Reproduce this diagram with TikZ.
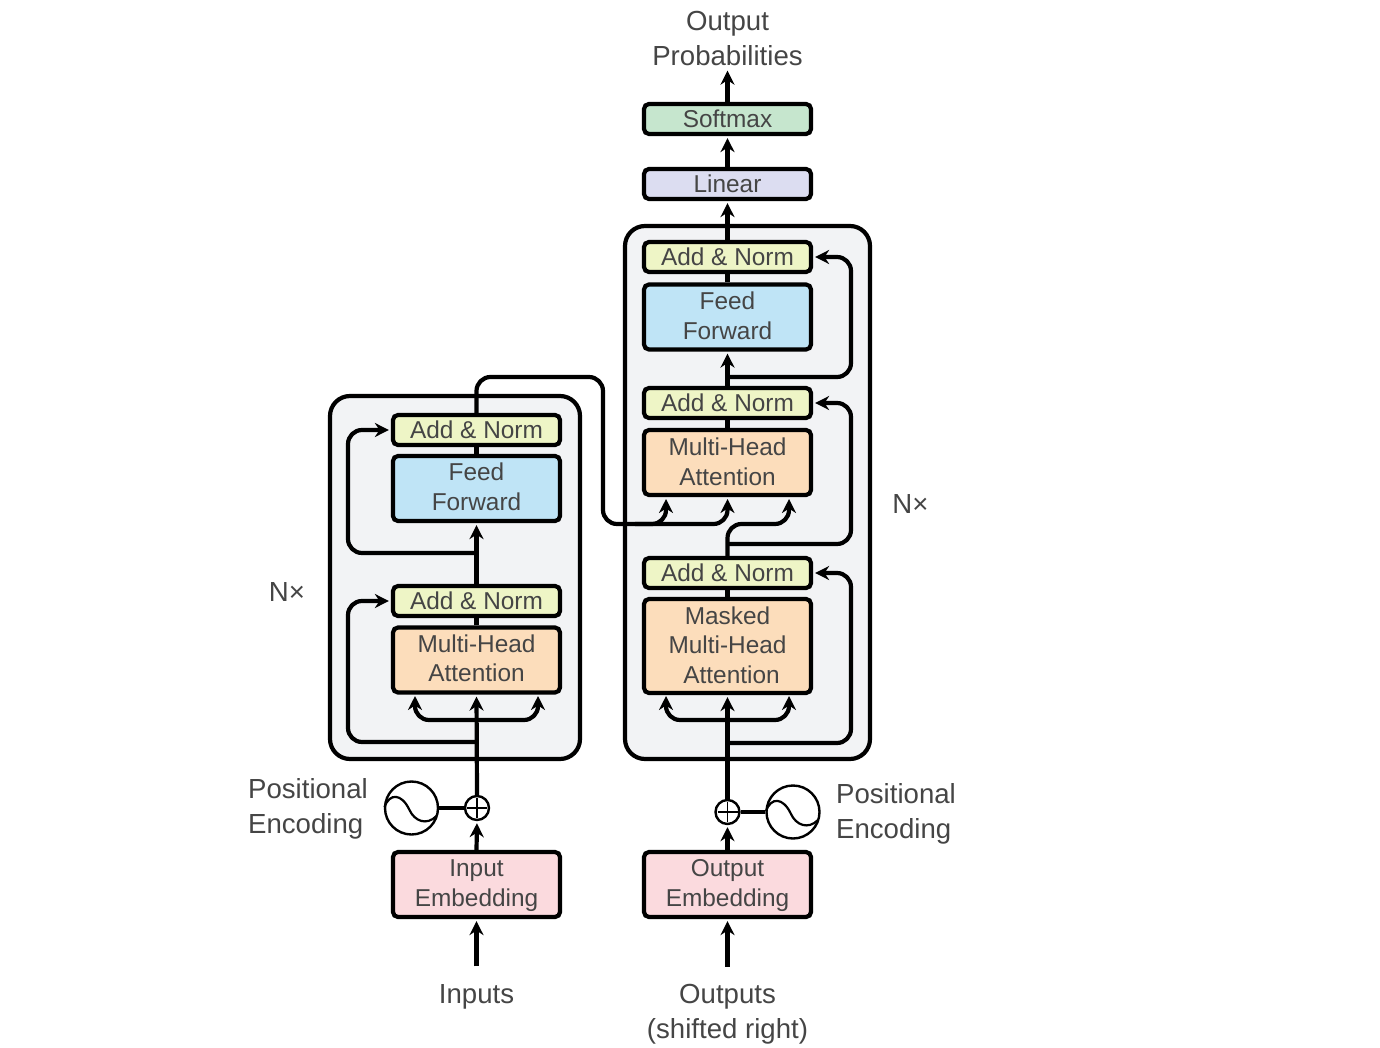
\documentclass[tikz,border=0pt]{standalone}
\usepackage{fontspec}
\setmainfont{Liberation Sans}
\usetikzlibrary{arrows.meta,calc}
\definecolor{txt}{HTML}{454545}
\definecolor{outerbg}{HTML}{F2F3F5}
\definecolor{softc}{HTML}{C6E6CE}
\definecolor{linc}{HTML}{DCDDF1}
\definecolor{anc}{HTML}{EEF5C6}
\definecolor{ffc}{HTML}{BFE4F6}
\definecolor{mhc}{HTML}{FCDDBB}
\definecolor{emc}{HTML}{FBDADE}
\tikzset{
  block/.style={draw=black,line width=2.1pt,rounded corners=2.5pt,minimum width=83.5pt,inner sep=0pt,
    align=center,text=txt,font=\fontsize{12.2}{14.8}\selectfont},
  thin block/.style={block,minimum height=15pt},
  two block/.style={block,minimum height=32.5pt},
  outerbox/.style={draw=black,line width=2.1pt,rounded corners=10pt,fill=outerbg},
  label/.style={text=txt,align=left,font=\fontsize{13.8}{17.5}\selectfont},
  midlabel/.style={label,align=center},
  conn/.style={line width=2.1pt,line join=round,rounded corners=7pt},
  arrowed/.style={conn,-{Stealth[length=7pt,width=7pt]},shorten >=1pt},
  wave/.style={draw=black,line width=1.2pt,circle,minimum size=26.5pt,inner sep=0pt,fill=white},
  plusnode/.style={draw=black,line width=1.2pt,circle,minimum size=12pt,inner sep=0pt,fill=white},
  plusline/.style={line width=0.6pt},
  waveline/.style={line width=1.1pt}
}
\begin{document}
\begin{tikzpicture}[x=0.5pt,y=-0.5pt]
\useasboundingbox (0,0) rectangle (1380,1048);
% containers
\draw[outerbox] (330,396) rectangle (580,759);
\draw[outerbox] (625,226) rectangle (870,759);
% encoder blocks
\node[thin block,fill=anc] (ean1) at (476.5,430) {Add \& Norm};
\node[two block,fill=ffc,text depth=2pt] (eff) at (476.5,488.5) {Feed\\Forward};
\node[thin block,fill=anc] (ean2) at (476.5,601) {Add \& Norm};
\node[two block,fill=mhc,text depth=2pt] (emh) at (476.5,660) {Multi-Head\\Attention};
\node[two block,fill=emc,text depth=1.6pt] (eem) at (476.5,884.5) {Input\\Embedding};
% decoder blocks
\node[thin block,fill=softc] (soft) at (727.5,119) {Softmax};
\node[thin block,fill=linc] (lin) at (727.5,184) {Linear};
\node[thin block,fill=anc] (dan1) at (727.5,257) {Add \& Norm};
\node[two block,fill=ffc,text depth=1.5pt] (dff) at (727.5,317) {Feed\\Forward};
\node[thin block,fill=anc] (dan2) at (727.5,403) {Add \& Norm};
\node[two block,fill=mhc,text depth=1pt] (dmh) at (727.5,462.5) {Multi-Head\\Attention};
\node[thin block,fill=anc] (dan3) at (727.5,573) {Add \& Norm};
\node[block,fill=mhc,minimum height=47pt,text depth=1pt] (dmm) at (727.5,646) {Masked\\Multi-Head\\\hspace*{4pt}Attention};
\node[two block,fill=emc,text depth=1.6pt] (dem) at (727.5,884.5) {Output\\Embedding};
% positional encoding
\node[plusnode] (eplus) at (477,808) {};
\node[plusnode] (dplus) at (727.5,812) {};
\node[wave] (ewave) at (411.5,808) {};
\node[wave] (dwave) at (793,812) {};
\draw[plusline] ($(eplus)+(-10,0)$) -- ($(eplus)+(10,0)$);
\draw[plusline] ($(eplus)+(0,-10)$) -- ($(eplus)+(0,10)$);
\draw[plusline] ($(dplus)+(-10,0)$) -- ($(dplus)+(10,0)$);
\draw[plusline] ($(dplus)+(0,-10)$) -- ($(dplus)+(0,10)$);
\draw[waveline] ($(ewave)+(-27,-1)$) .. controls ($(ewave)+(-22,-15)$) and ($(ewave)+(-10,-15)$) .. ($(ewave)+(-2,2)$)
  .. controls ($(ewave)+(3,13)$) and ($(ewave)+(15,18)$) .. ($(ewave)+(25,8)$);
\draw[waveline] ($(dwave)+(-27,-1)$) .. controls ($(dwave)+(-22,-15)$) and ($(dwave)+(-10,-15)$) .. ($(dwave)+(-2,2)$)
  .. controls ($(dwave)+(3,13)$) and ($(dwave)+(15,18)$) .. ($(dwave)+(25,8)$);
% text labels
\node[midlabel,inner sep=1pt] (outprob) at (727.5,39) {Output\\Probabilities};
\node[midlabel,inner ysep=9pt] (inputs) at (476.5,997) {Inputs};
\node[midlabel,inner ysep=8.5pt] (outputs) at (727.5,1014) {Outputs\\(shifted right)};
\node[label] (epos) at (308,809) {Positional\\Encoding};
\node[label] (dpos) at (896,814) {Positional\\Encoding};
\node[label] (enx) at (287,592) {N×};
\node[label] (dnx) at (910.5,504) {N×};
% routing coordinates
\coordinate (ebot) at (476.5,742);
\coordinate (efork) at (476.5,720);
\coordinate (emid) at (476.5,553);
\coordinate (eleft) at (348,500);
\coordinate (eql) at (415,694);
\coordinate (eqr) at (538,694);
\coordinate (dbot) at (727.5,743);
\coordinate (dfork) at (727.5,720);
\coordinate (dql) at (666,694);
\coordinate (dqr) at (789,694);
\coordinate (dright) at (851,500);
\coordinate (dmid3) at (727.5,544);
\coordinate (dmid2) at (727.5,377);
\coordinate (crossy) at (603,377);
\coordinate (crossb) at (603,524);
\coordinate (crossm) at (635,524);
\coordinate (kq) at (666,497);
\coordinate (kk) at (727.5,497);
\coordinate (kv) at (789,497);
% encoder connectors
\draw[arrowed] (inputs.north) -- (eem.south);
\draw[arrowed] (eem.north) -- (eplus.south);
\draw[arrowed] (eplus.north) -- (emh.south);
\draw[conn] (ewave.east) -- (eplus.west);
\draw[arrowed] (efork) -- (efork -| eql) -- (eql);
\draw[arrowed] (efork) -- (efork -| eqr) -- (eqr);
\draw[arrowed] (ebot) -- (ebot -| eleft) -- (ean2.west -| eleft) -- (ean2.west);
\draw[conn] (emh.north) -- (ean2.south);
\draw[arrowed] (ean2.north) -- (eff.south);
\draw[arrowed] (emid) -- (emid -| eleft) -- (ean1.west -| eleft) -- (ean1.west);
\draw[conn] (eff.north) -- (ean1.south);
% encoder to decoder
\draw[arrowed] (ean1.north) -- (ean1.north |- crossy) -- (crossy) -- (crossb) -- (crossb -| kq) -- (kq);
\draw[arrowed] (crossm) -- (crossb -| kk) -- (kk);
% decoder connectors
\draw[arrowed] (outputs.north) -- (dem.south);
\draw[arrowed] (dem.north) -- (dplus.south);
\draw[arrowed] (dplus.north) -- (dmm.south);
\draw[conn] (dwave.west) -- (dplus.east);
\draw[arrowed] (dfork) -- (dfork -| dql) -- (dql);
\draw[arrowed] (dfork) -- (dfork -| dqr) -- (dqr);
\draw[arrowed] (dbot) -- (dbot -| dright) -- (dan3.east -| dright) -- (dan3.east);
\draw[conn] (dmm.north) -- (dan3.south);
\draw[arrowed] (dan3.north) -- (crossb -| dan3.north) -- (crossb -| kv) -- (kv);
\draw[arrowed] (dmid3) -- (dmid3 -| dright) -- (dan2.east -| dright) -- (dan2.east);
\draw[conn] (dmh.north) -- (dan2.south);
\draw[arrowed] (dan2.north) -- (dff.south);
\draw[arrowed] (dmid2) -- (dmid2 -| dright) -- (dan1.east -| dright) -- (dan1.east);
\draw[conn] (dff.north) -- (dan1.south);
\draw[arrowed] (dan1.north) -- (lin.south);
\draw[arrowed] (lin.north) -- (soft.south);
\draw[arrowed] (soft.north) -- (outprob.south);
\end{tikzpicture}
\end{document}
